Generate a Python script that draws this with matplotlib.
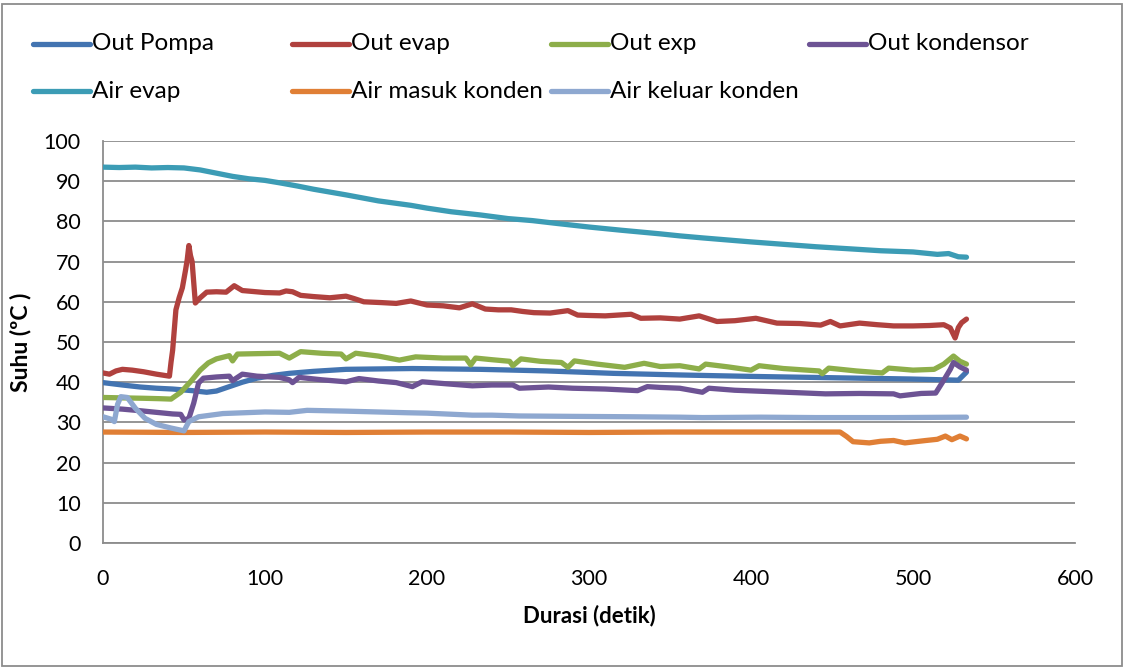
import matplotlib
matplotlib.use("Agg")
import matplotlib.pyplot as plt
from matplotlib.lines import Line2D
from matplotlib.patches import Rectangle

plt.rcParams['font.family'] = ['Lato', 'DejaVu Sans']

# --- series (time in seconds, temperature in °C) ---
t_pompa = [0, 12, 23, 33, 43, 55, 64, 70, 78, 86, 95, 105, 115, 130, 150, 170, 191, 212, 233, 254, 274, 295, 315, 336, 356, 380, 406, 437, 467, 498, 528, 533]
v_pompa = [39.9, 39.3, 38.8, 38.5, 38.3, 37.9, 37.5, 37.8, 38.9, 40.0, 41.0, 41.7, 42.2, 42.7, 43.2, 43.3, 43.4, 43.3, 43.2, 43.0, 42.8, 42.5, 42.2, 42.0, 41.8, 41.6, 41.4, 41.2, 41.0, 40.8, 40.5, 42.5]

t_evap = [0, 4, 8, 12, 18, 25, 33, 41, 42, 43, 45, 47, 49, 51, 52, 53, 54, 55, 57, 60, 64, 70, 76, 81, 86, 100, 109, 113, 117, 122, 130, 140, 150, 155, 161, 172, 181, 190, 200, 210, 220, 228, 236, 244, 252, 259, 266, 276, 287, 293, 300, 310, 326, 332, 344, 356, 368, 379, 390, 403, 416, 430, 443, 449, 455, 467, 478, 488, 500, 510, 519, 523, 526, 528, 530, 533]
v_evap = [42.3, 42.0, 42.8, 43.2, 43.0, 42.6, 42.0, 41.5, 45.0, 48.0, 58.0, 61.0, 63.5, 68.0, 70.5, 74.0, 71.5, 70.0, 59.7, 61.0, 62.4, 62.5, 62.4, 64.0, 62.8, 62.3, 62.2, 62.7, 62.5, 61.6, 61.3, 61.0, 61.4, 60.8, 60.0, 59.8, 59.6, 60.2, 59.2, 59.0, 58.5, 59.5, 58.2, 58.0, 58.0, 57.6, 57.3, 57.2, 57.8, 56.7, 56.6, 56.5, 56.9, 55.9, 56.0, 55.7, 56.5, 55.1, 55.3, 55.9, 54.7, 54.6, 54.2, 55.1, 54.0, 54.7, 54.3, 54.0, 54.0, 54.1, 54.3, 53.5, 51.0, 53.6, 54.8, 55.7]

t_exp = [0, 12, 25, 35, 42, 48, 54, 60, 65, 70, 78, 80, 83, 95, 109, 115, 122, 135, 147, 150, 156, 170, 183, 193, 210, 224, 227, 230, 240, 251, 253, 258, 270, 283, 287, 291, 305, 322, 334, 344, 356, 368, 372, 386, 400, 405, 420, 442, 444, 448, 465, 481, 485, 500, 513, 519, 525, 529, 533]
v_exp = [36.2, 36.1, 36.0, 35.9, 35.8, 37.5, 40.1, 43.0, 44.8, 45.8, 46.6, 45.3, 47.0, 47.1, 47.2, 46.0, 47.6, 47.2, 47.0, 45.8, 47.2, 46.5, 45.5, 46.3, 46.0, 46.0, 44.3, 46.0, 45.6, 45.2, 44.1, 45.8, 45.2, 44.9, 43.7, 45.3, 44.5, 43.7, 44.7, 43.9, 44.1, 43.3, 44.5, 43.8, 43.0, 44.1, 43.4, 42.8, 42.1, 43.5, 42.8, 42.3, 43.5, 43.0, 43.2, 44.5, 46.5, 45.2, 44.5]

t_kond = [0, 12, 23, 33, 43, 48, 50, 53, 56, 59, 62, 70, 78, 80, 86, 95, 109, 115, 117, 121, 135, 150, 158, 170, 181, 191, 197, 212, 228, 240, 253, 257, 275, 290, 310, 330, 336, 344, 356, 370, 374, 390, 409, 428, 446, 467, 488, 492, 505, 514, 519, 523, 525, 529, 533]
v_kond = [33.6, 33.3, 32.9, 32.5, 32.1, 32.0, 30.6, 31.0, 34.8, 39.8, 41.0, 41.3, 41.5, 40.4, 42.0, 41.5, 41.2, 40.6, 39.9, 41.2, 40.6, 40.1, 40.9, 40.3, 39.9, 38.9, 40.1, 39.6, 39.1, 39.3, 39.3, 38.5, 38.8, 38.5, 38.3, 37.9, 38.9, 38.7, 38.5, 37.5, 38.5, 38.0, 37.7, 37.4, 37.1, 37.2, 37.1, 36.6, 37.2, 37.3, 40.5, 43.2, 44.9, 43.8, 43.0]

t_air_evap = [0, 10, 20, 30, 40, 50, 60, 70, 80, 90, 100, 109, 120, 130, 150, 170, 190, 200, 215, 233, 250, 265, 280, 300, 320, 344, 356, 370, 385, 400, 420, 440, 460, 480, 500, 515, 522, 528, 533]
v_air_evap = [93.5, 93.4, 93.5, 93.3, 93.4, 93.3, 92.8, 92.0, 91.2, 90.6, 90.2, 89.6, 88.8, 88.0, 86.6, 85.1, 84.0, 83.3, 82.4, 81.6, 80.7, 80.2, 79.5, 78.6, 77.8, 76.9, 76.4, 75.9, 75.4, 74.9, 74.3, 73.7, 73.2, 72.7, 72.4, 71.8, 72.0, 71.2, 71.1]

t_air_masuk = [0, 50, 100, 150, 200, 250, 300, 350, 400, 455, 459, 463, 473, 480, 488, 495, 508, 515, 520, 524, 529, 533]
v_air_masuk = [27.6, 27.5, 27.6, 27.5, 27.6, 27.6, 27.5, 27.6, 27.6, 27.6, 26.5, 25.2, 24.9, 25.3, 25.5, 24.9, 25.5, 25.8, 26.6, 25.7, 26.6, 25.9]

t_air_keluar = [0, 5, 7, 9, 11, 15, 20, 26, 33, 42, 50, 53, 59, 74, 100, 115, 126, 150, 188, 200, 228, 240, 257, 290, 327, 356, 370, 406, 440, 488, 533]
v_air_keluar = [31.4, 30.8, 30.2, 34.5, 36.4, 36.2, 33.5, 31.0, 29.5, 28.6, 27.9, 30.2, 31.4, 32.2, 32.6, 32.5, 33.0, 32.8, 32.4, 32.3, 31.8, 31.8, 31.6, 31.5, 31.4, 31.3, 31.2, 31.3, 31.2, 31.2, 31.3]

series = [
    ("Out Pompa", t_pompa, v_pompa, "#4374B1"),
    ("Out evap", t_evap, v_evap, "#B0413E"),
    ("Out exp", t_exp, v_exp, "#8DAE4A"),
    ("Out kondensor", t_kond, v_kond, "#6D5394"),
    ("Air evap", t_air_evap, v_air_evap, "#3C9CB5"),
    ("Air masuk konden", t_air_masuk, v_air_masuk, "#E07F35"),
    ("Air keluar konden", t_air_keluar, v_air_keluar, "#8EA8D0"),
]

fig = plt.figure(figsize=(11.28, 6.70), dpi=100)
ax = fig.add_axes([103 / 1128, 1 - 543 / 670, (1075 - 103) / 1128, (543 - 141) / 670])

for name, t, v, c in series:
    ax.plot(t, v, color=c, lw=3.8, solid_capstyle='round', solid_joinstyle='round', zorder=3)

ax.set_xlim(0, 600)
ax.set_ylim(0, 100)
ax.set_xticks(range(0, 601, 100))
ax.set_yticks(range(0, 101, 10))
ax.grid(axis='y', color='#8C8C8C', lw=1.3)
ax.set_axisbelow(True)
for s in ('top', 'right'):
    ax.spines[s].set_visible(False)
for s in ('left', 'bottom'):
    ax.spines[s].set_color('#8C8C8C')
    ax.spines[s].set_linewidth(1.3)
ax.tick_params(length=0, labelsize=15.5, colors='black')
ax.tick_params(axis='y', pad=16)
ax.tick_params(axis='x', pad=19)
ax.set_xlabel("Durasi (detik)", fontsize=16, fontweight='bold', labelpad=11)
ax.set_ylabel("Suhu (ºC )", fontsize=16.5, fontweight='bold', labelpad=9)

# legend laid out in a fixed grid
col_x = [33, 292, 551, 809]
row_y = [44, 91]
for i, (name, t, v, c) in enumerate(series):
    r, k = divmod(i, 4)
    x0 = col_x[k]
    y = 1 - row_y[r] / 670
    fig.add_artist(Line2D([x0 / 1128, (x0 + 57) / 1128], [y, y], color=c, lw=3.8,
                          solid_capstyle='round', transform=fig.transFigure))
    fig.text((x0 + 59) / 1128, y, name, fontsize=17.5, va='center', ha='left')

# chart frame
fig.add_artist(Rectangle((2 / 1128, 4 / 670), 1120 / 1128, 662 / 670, transform=fig.transFigure,
                         fill=False, edgecolor='#8C8C8C', lw=1.3))

fig.savefig("out.png", dpi=100)
